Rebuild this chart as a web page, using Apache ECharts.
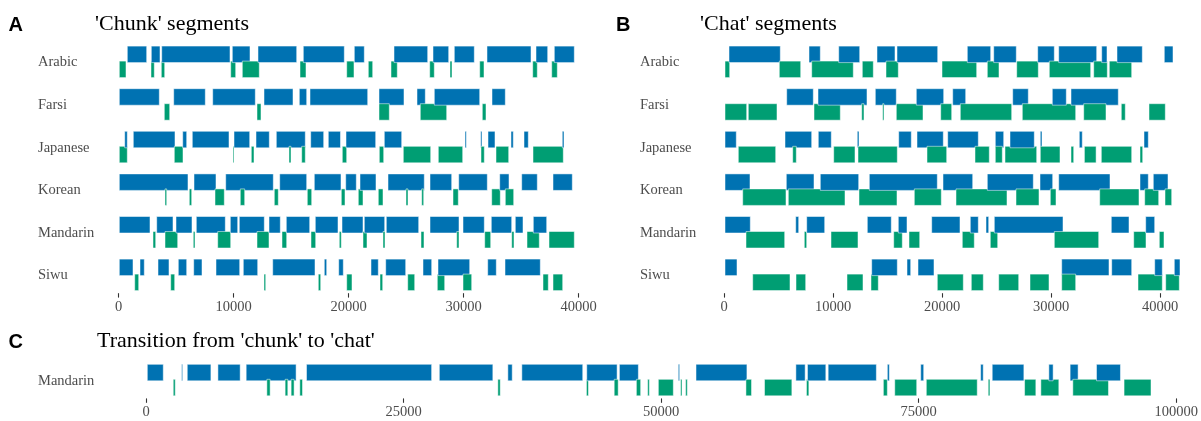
<!DOCTYPE html>
<html><head><meta charset="utf-8">
<script src="https://cdn.jsdelivr.net/npm/echarts@6/dist/echarts.min.js"></script>
<style>html,body{margin:0;padding:0;background:#fff}#c{width:1201px;height:421px}</style>
</head><body><div id="c"></div>
<script>
const languages = ['Arabic','Farsi','Japanese','Korean','Mandarin','Siwu'];
const ticksAB = [0,10000,20000,30000,40000];
const ticksC = [0,25000,50000,75000,100000];

// Panel A: 'Chunk' segments  [start, end] in ms
const A_Arabic_blue = [[765,2452],[2852,3609],[3757,9696],[9896,11435],[12130,15496],[16070,19635],[20505,21374],[23957,26887],[27348,28713],[29200,30939],[32043,35870],[36304,37322],[37896,39635]];
const A_Arabic_green = [[70,652],[2826,3113],[3722,4017],[9757,10191],[10765,12243],[15783,16304],[19843,20478],[21722,22104],[23696,24243],[27061,27461],[28826,29000],[31409,31783],[36017,36417],[37670,38157]];
const A_Farsi_blue = [[70,3548],[4800,7548],[8191,11896],[12652,15174],[15722,16365],[16652,21670],[22652,24826],[25957,26678],[27461,31409],[32478,33635]];
const A_Farsi_green = [[3983,4452],[12043,12391],[22652,23548],[26243,28539],[31635,31957]];
const A_Japanese_blue = [[539,765],[1287,4913],[5583,5930],[6417,9609],[10043,11409],[11957,13113],[13722,16243],[16713,17843],[18243,19304],[19783,22365],[23113,24626],[30130,30243],[31496,31609],[32130,32739],[34130,34330],[35261,35635],[38591,38739]];
const A_Japanese_green = [[70,765],[4852,5609],[9957,10043],[11548,11783],[14826,15000],[15930,16243],[19461,19843],[22678,23061],[24765,27148],[27809,29930],[31522,31809],[32826,33930],[36043,38678]];
const A_Korean_blue = [[70,6043],[6565,8478],[9322,13461],[14017,16365],[17026,19348],[19757,20678],[21000,22391],[23435,26591],[27087,28974],[29583,32070],[33148,33957],[35061,36417],[37783,39461]];
const A_Korean_green = [[4043,4191],[6157,6365],[8391,9200],[10591,10974],[13548,13896],[16417,16800],[19374,19696],[20852,21261],[22591,23000],[25000,25174],[26365,26539],[29087,29548],[32452,33200],[33635,34365]];
const A_Mandarin_blue = [[70,2739],[3322,4739],[5000,6391],[6765,9287],[9722,10365],[10504,12678],[13087,14070],[14591,16626],[17113,19087],[19435,21261],[21374,23148],[23287,26104],[27087,29609],[29957,31809],[32417,34191],[34504,35174],[36070,37235]];
const A_Mandarin_green = [[3000,3235],[4043,5148],[6504,6652],[8626,9757],[12043,13087],[14217,14626],[16739,17148],[19200,19374],[21261,21609],[23000,23174],[26304,26565],[29409,29609],[31843,32365],[34191,34391],[35522,36591],[37435,39635]];
const A_Siwu_blue = [[70,1261],[1870,2243],[3435,4391],[5200,5930],[6539,7261],[8478,10539],[10852,12104],[13409,17087],[17896,18104],[19148,19548],[21957,22591],[23235,24974],[26478,27235],[27783,30539],[32104,32852],[33609,36678]];
const A_Siwu_green = [[1409,1757],[4539,4887],[12652,12800],[17374,17583],[19843,20304],[22739,22974],[25148,25757],[27722,28365],[29957,30713],[36913,37374],[37783,38626]];

// Panel B: 'Chat' segments
const B_Arabic_blue = [[459,5165],[7798,8835],[10523,12450],[14037,15688],[15872,19606],[22321,24468],[24743,26816],[28780,30303],[30706,34192],[34651,35137],[36055,38376],[40394,41193]];
const B_Arabic_green = [[92,523],[5073,7037],[8046,11862],[12688,13697],[14862,15991],[20000,23183],[24156,25229],[26853,28835],[29844,33642],[33917,35165],[35349,37403]];
const B_Farsi_blue = [[5752,8193],[8624,13119],[13881,15807],[17642,20156],[20982,22174],[26486,27917],[30119,31404],[31835,36174]];
const B_Farsi_green = [[92,2083],[2229,4862],[8257,10670],[12633,12844],[14559,14679],[15807,18257],[19881,20890],[21679,26394],[27367,32266],[33000,35046],[36449,36816],[38991,40486]];
const B_Japanese_blue = [[92,1128],[5596,8046],[8651,9844],[12229,12385],[16027,17183],[17706,20119],[20523,23330],[24890,25661],[26238,28468],[29018,29174],[32596,32871],[38532,38927]];
const B_Japanese_green = [[1312,4743],[6303,6633],[10064,12018],[12294,15899],[18624,20431],[23027,24339],[24890,25532],[25780,28688],[29018,30826],[31835,32083],[33064,34138],[34615,37404],[38165,38413]];
const B_Korean_blue = [[92,2385],[5716,8257],[8835,12358],[13330,19569],[20092,22817],[24156,28376],[28991,30156],[30706,35413],[38165,38927],[39385,40734]];
const B_Korean_green = [[1716,5688],[5899,11101],[12385,15871],[17459,19936],[21284,25963],[26789,28899],[29936,30459],[34468,38073],[38596,39881],[40459,41073]];
const B_Mandarin_blue = [[92,2413],[6578,6853],[7587,9238],[13147,15348],[15991,16789],[19055,21651],[22596,23330],[24037,24284],[24798,31101],[35532,37156],[38687,39513]];
const B_Mandarin_green = [[2018,5569],[7367,7587],[9816,12293],[15569,16358],[16972,17954],[21862,22963],[24431,25110],[30303,34376],[37587,38716],[39936,40367]];
const B_Siwu_blue = [[92,1193],[13550,15899],[16789,17128],[17798,19266],[30982,35321],[35569,37404],[39513,40211],[41312,41835]];
const B_Siwu_green = [[2633,6055],[6605,7495],[11284,12752],[13486,14156],[19569,21954],[22688,23789],[25202,27037],[28073,29817],[30982,32266],[37981,40211],[40523,41771]];

// Panel C: transition from 'chunk' to 'chat' (Mandarin)
const C_Mandarin_blue = [[126,1677],[3461,3558],[4004,6301],[6980,9141],[9723,14570],[15578,27725],[28471,33667],[35122,35548],[36480,42392],[42780,45727],[45949,47791],[51669,51795],[53385,58329],[63079,63980],[64204,65987],[66213,70892],[71959,72152],[75196,75487],[81013,81265],[82137,85210],[87634,88050],[89699,90474],[92258,94585]];
const C_Mandarin_green = [[2646,2840],[11730,12050],[13504,13765],[14086,14376],[14929,15191],[34152,34385],[42751,42945],[45445,45833],[47597,48014],[48693,48858],[49730,51184],[51892,52028],[52377,52541],[58232,58775],[60034,62690],[64107,64340],[71571,71959],[72676,74809],[75739,80683],[81749,81914],[85278,86373],[86858,88603],[89961,93422],[94934,97551]];

const BLUE = '#0072B2', GREEN = '#009E73';

function build(rows) {
  const out = [];
  rows.forEach((r, i) => {
    r[0].forEach(s => out.push([i, s[0], s[1], 0]));
    r[1].forEach(s => out.push([i, s[0], s[1], 1]));
  });
  out.sort((a, b) => a[1] - b[1]);
  return out;
}
const dataA = build([[A_Arabic_blue,A_Arabic_green],[A_Farsi_blue,A_Farsi_green],[A_Japanese_blue,A_Japanese_green],[A_Korean_blue,A_Korean_green],[A_Mandarin_blue,A_Mandarin_green],[A_Siwu_blue,A_Siwu_green]]);
const dataB = build([[B_Arabic_blue,B_Arabic_green],[B_Farsi_blue,B_Farsi_green],[B_Japanese_blue,B_Japanese_green],[B_Korean_blue,B_Korean_green],[B_Mandarin_blue,B_Mandarin_green],[B_Siwu_blue,B_Siwu_green]]);
const dataC = build([[C_Mandarin_blue,C_Mandarin_green]]);

function renderItem(params, api) {
  const cat = api.value(0), s = api.value(1), e = api.value(2), spk = api.value(3);
  const p0 = api.coord([s, cat]);
  const p1 = api.coord([e, cat]);
  const c = p0[1] + 0.1;
  const h = 16.5;
  const y0 = spk === 0 ? c - h : c - 1.5;
  return {
    type: 'rect',
    shape: { x: p0[0], y: y0, width: Math.max(p1[0] - p0[0], 0.8), height: h },
    style: { fill: spk === 0 ? BLUE : GREEN, stroke: '#ffffff', lineWidth: 0.5 }
  };
}

const serif = 'Liberation Serif';
const tickLabel = { fontFamily: serif, fontSize: 14.5, color: '#4D4D4D' };

function xAx(gi, max, interval) {
  return {
    gridIndex: gi, type: 'value', min: 0, max: max, interval: interval, offset: -3.6,
    axisLine: { show: false }, splitLine: { show: false },
    axisTick: { show: true, length: 4.4, lineStyle: { color: '#333333', width: 1.1 } },
    axisLabel: Object.assign({ margin: 6, formatter: v => String(v) }, tickLabel)
  };
}
function yAx(gi, cats, margin) {
  return {
    gridIndex: gi, type: 'category', data: cats, inverse: true,
    axisLine: { show: false }, axisTick: { show: false }, splitLine: { show: false },
    axisLabel: Object.assign({ margin: margin, align: 'left', verticalAlign: 'middle', padding: [4, 0, 0, 0] }, tickLabel)
  };
}

const chart = echarts.init(document.getElementById('c'), null, { renderer: 'canvas' });
chart.setOption({
  animation: false,
  backgroundColor: '#ffffff',
  grid: [
    { left: 118.5, width: 460, top: 41.2, height: 255.6 },
    { left: 724, width: 436, top: 41.2, height: 255.6 },
    { left: 146, width: 1031.7, top: 359.4, height: 42.6 }
  ],
  xAxis: [xAx(0, 40000, 10000), xAx(1, 40000, 10000), xAx(2, 100000, 25000)],
  yAxis: [yAx(0, languages, 80.5), yAx(1, languages, 84), yAx(2, ['Mandarin'], 108)],
  series: [
    { type: 'custom', xAxisIndex: 0, yAxisIndex: 0, renderItem, data: dataA, clip: false, encode: { x: [1, 2], y: 0 } },
    { type: 'custom', xAxisIndex: 1, yAxisIndex: 1, renderItem, data: dataB, clip: false, encode: { x: [1, 2], y: 0 } },
    { type: 'custom', xAxisIndex: 2, yAxisIndex: 2, renderItem, data: dataC, clip: false, encode: { x: [1, 2], y: 0 } }
  ],
  graphic: [
    { type: 'text', style: { text: 'A', x: 8.5, y: 25.3, font: 'bold 20px "Liberation Sans"', fill: '#000', verticalAlign: 'middle' } },
    { type: 'text', style: { text: "'Chunk' segments", x: 95, y: 24.4, font: '22px "Liberation Serif"', fill: '#000', verticalAlign: 'middle' } },
    { type: 'text', style: { text: 'B', x: 616, y: 25.3, font: 'bold 20px "Liberation Sans"', fill: '#000', verticalAlign: 'middle' } },
    { type: 'text', style: { text: "'Chat' segments", x: 700, y: 24.4, font: '22px "Liberation Serif"', fill: '#000', verticalAlign: 'middle' } },
    { type: 'text', style: { text: 'C', x: 8.5, y: 342, font: 'bold 20px "Liberation Sans"', fill: '#000', verticalAlign: 'middle' } },
    { type: 'text', style: { text: "Transition from 'chunk' to 'chat'", x: 97, y: 341, font: '22px "Liberation Serif"', fill: '#000', verticalAlign: 'middle' } }
  ]
});
</script>
</body></html>
